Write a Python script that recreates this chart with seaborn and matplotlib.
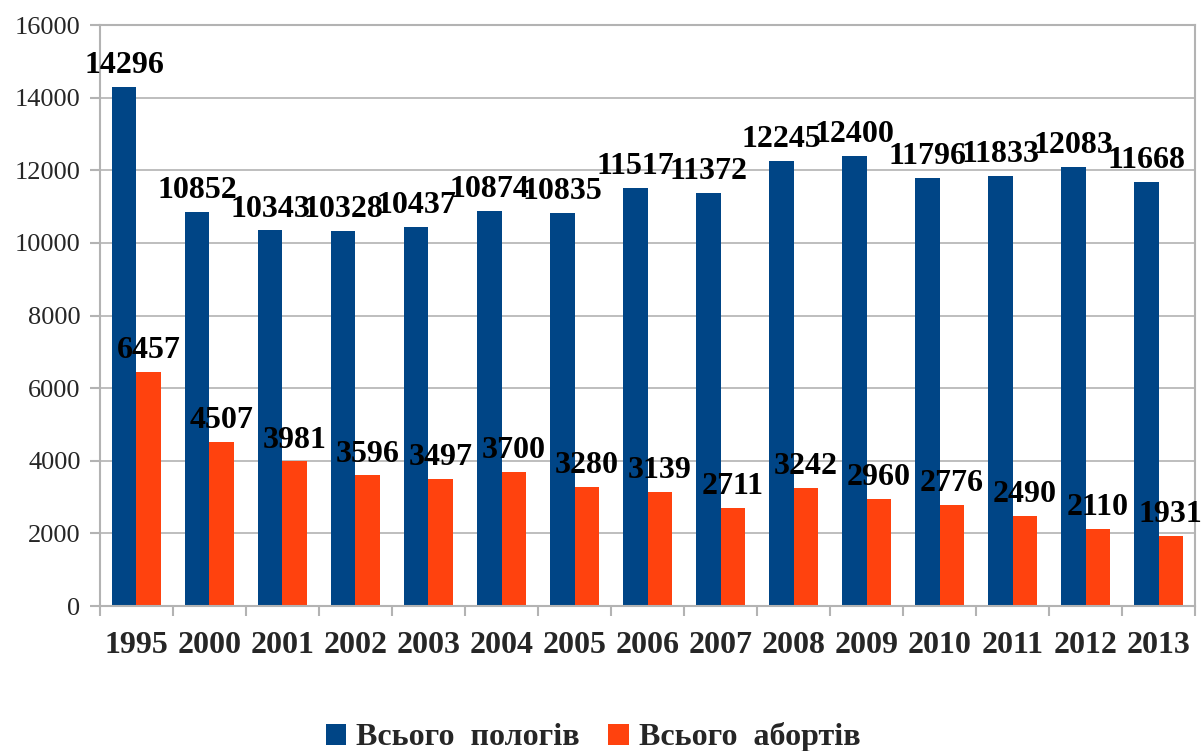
import matplotlib
matplotlib.use("Agg")
import matplotlib.pyplot as plt
import seaborn as sns
import pandas as pd
from matplotlib.patches import Patch
from matplotlib.ticker import FixedLocator

# Data
years = ["1995", "2000", "2001", "2002", "2003", "2004", "2005", "2006",
         "2007", "2008", "2009", "2010", "2011", "2012", "2013"]
births = [14296, 10852, 10343, 10328, 10437, 10874, 10835, 11517,
          11372, 12245, 12400, 11796, 11833, 12083, 11668]
abortions = [6457, 4507, 3981, 3596, 3497, 3700, 3280, 3139,
             2711, 3242, 2960, 2776, 2490, 2110, 1931]
series_names = ["Всього  пологів", "Всього  абортів"]
colors = ["#004586", "#ff420e"]

df = pd.DataFrame({
    "year": years * 2,
    "value": births + abortions,
    "series": [series_names[0]] * len(years) + [series_names[1]] * len(years),
})

sns.set_style("white")
plt.rcParams["font.family"] = ["Liberation Serif", "DejaVu Serif"]

fig = plt.figure(figsize=(12.03, 7.51), dpi=100)
ax = fig.add_axes([0.0831, 0.193, 0.9103, 0.7737])

sns.barplot(data=df, x="year", y="value", hue="series", palette=colors,
            width=0.67, saturation=1, linewidth=0, legend=False, ax=ax)

# value labels above each bar
for container in ax.containers:
    ax.bar_label(container, fmt="%d", padding=5, fontsize=23,
                 fontweight="bold", color="black")

ax.set_ylim(0, 16000)
ax.set_xlim(-0.5, len(years) - 0.5)
ax.set_yticks(range(0, 16001, 2000))
ax.yaxis.grid(True, color="#b3b3b3", linewidth=1.2)
ax.set_axisbelow(True)
ax.set_xlabel("")
ax.set_ylabel("")

for s in ax.spines.values():
    s.set_color("#b3b3b3")
    s.set_linewidth(1.5)

ax.tick_params(axis="y", which="major", length=7, width=1.5, color="#b3b3b3",
               labelsize=19, pad=7, left=True)
ax.tick_params(axis="x", which="major", length=0, labelsize=23, pad=18)
for lbl in ax.get_xticklabels():
    lbl.set_fontweight("bold")
ax.xaxis.set_minor_locator(FixedLocator([i - 0.5 for i in range(len(years) + 1)]))
ax.tick_params(axis="x", which="minor", length=7, width=1.5, color="#b3b3b3",
               bottom=True)

handles = [Patch(facecolor=c, edgecolor="none") for c in colors]
fig.legend(handles, series_names, loc="center", bbox_to_anchor=(0.493, 0.018),
           ncol=2, frameon=False, prop={"size": 23, "weight": "bold"},
           handlelength=0.65, handleheight=0.65, handletextpad=0.3,
           columnspacing=0.9)

fig.savefig("out.png", dpi=100)
